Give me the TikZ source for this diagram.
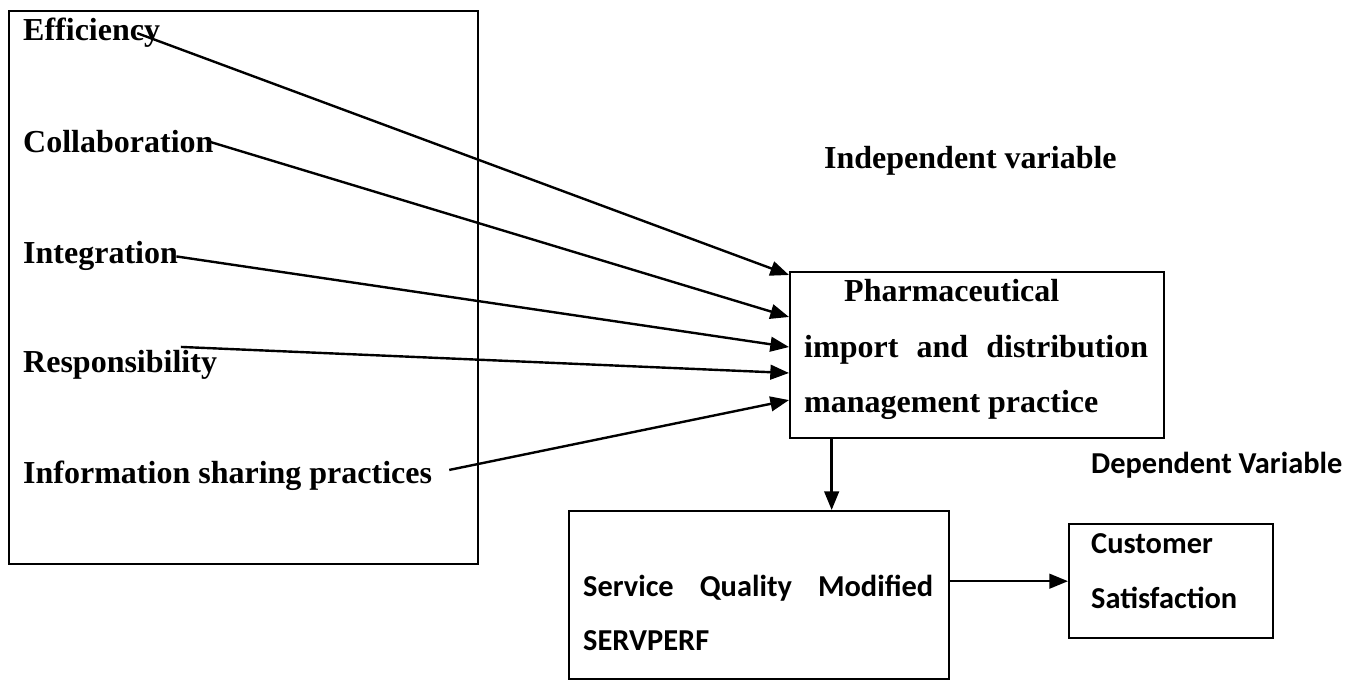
\documentclass[tikz,border=0pt]{standalone}
\usepackage{fontspec}
\setmainfont{Liberation Serif}
\newfontfamily\calibri{Carlito}
\usetikzlibrary{arrows.meta,positioning,calc}

\begin{document}
\begin{tikzpicture}[x=0.375pt,y=-0.375pt,line width=0.9pt,
    >={Triangle[length=7pt,width=5.5pt]},
    lbl/.style={anchor=base west,inner sep=0pt},
    tnr/.style={font=\fontsize{12}{14}\selectfont\bfseries},
    cal/.style={font=\calibri\fontsize{11.4}{14}\selectfont\bfseries},
    cbox/.style={draw,inner sep=0pt,anchor=north west}]
    \useasboundingbox (0,0) rectangle (1355,681);

    % boxes
    \node[cbox,minimum width=175.9pt,minimum height=207.4pt] (factors) at (8,10) {};
    \node[cbox,minimum width=140.25pt,minimum height=62.25pt] (pharma) at (789,271) {};
    \node[cbox,minimum width=142.5pt,minimum height=63pt] (serv) at (568,510) {};
    \node[cbox,minimum width=76.5pt,minimum height=42.75pt] (cust) at (1068,523) {};

    % independent factors
    \foreach \n/\y/\t in{
        eff/41/Efficiency,
        col/153/Collaboration,
        integ/264/Integration,
        resp/373/Responsibility,
        info/483/Information sharing practices
        }
        {
            \node[tnr,lbl] (\n) at (22,\y) {\t};
        }

    \node[tnr,lbl] (indep) at (823,169) {Independent variable};
    \node[cal,lbl] (dep) at (1090,474) {Dependent Variable};

    % box texts
    \node[tnr,lbl] (ph1) at (843,302) {Pharmaceutical};
    \node[tnr,lbl] (ph2) at (803,358) {\makebox[129pt][s]{import and distribution}};
    \node[tnr,lbl] (ph3) at (803,413) {management practice};
    \node[cal,lbl] (sq1) at (582,597) {\makebox[131.25pt][s]{Service Quality Modified}};
    \node[cal,lbl] (sq2) at (582,650) {SERVPERF};
    \node[cal,lbl] (cs1) at (1090,553) {Customer};
    \node[cal,lbl] (cs2) at (1090,608) {Satisfaction};

    % arrow ends on the practice box
    \coordinate (in1) at ([yshift=-1.5pt]pharma.north west);
    \coordinate (in2) at ([yshift=-17.25pt]pharma.north west);
    \coordinate (in3) at ([yshift=-28.5pt]pharma.north west);
    \coordinate (in4) at ([yshift=-38.25pt]pharma.north west);
    \coordinate (in5) at ([yshift=-48.4pt]pharma.north west);

    \draw[->] ([xshift=-9pt]eff.east) -- (in1);
    \draw[->] ([xshift=-1.5pt]col.east) -- (in2);
    \draw[->] ([xshift=-1pt]integ.east) -- (in3);
    \draw[->] ([xshift=-14pt,yshift=1pt]resp.north east) -- (in4);
    \draw[->] ([xshift=6pt,yshift=2pt]info.east) -- (in5);

    \draw[->] ([xshift=16pt]pharma.south west) -- ([xshift=16pt]pharma.south west |- serv.north);
    \draw[->] (serv.east |- cust.west) -- (cust.west);
\end{tikzpicture}
\end{document}
